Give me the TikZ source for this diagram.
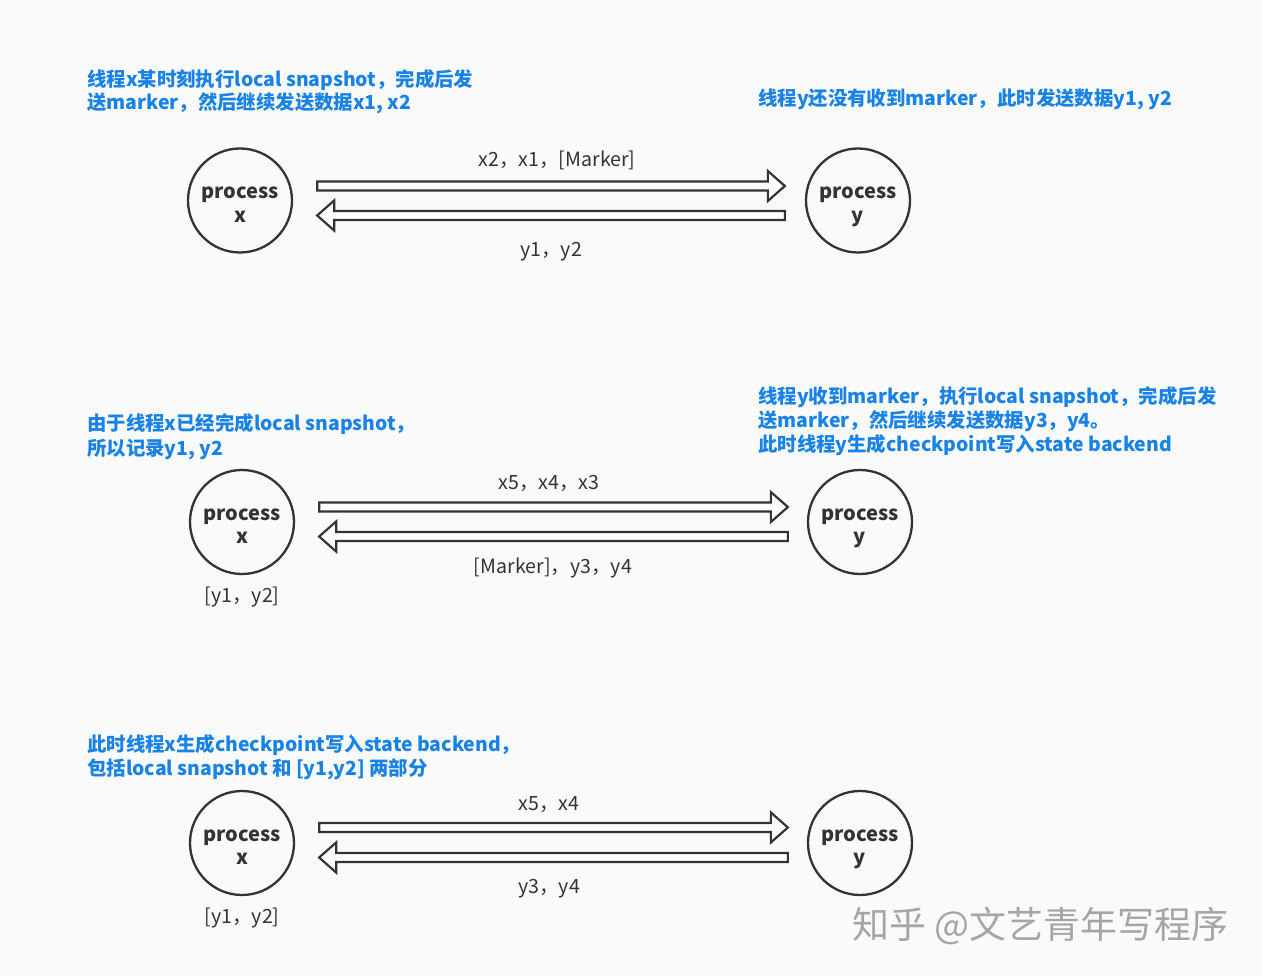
\documentclass[tikz,border=0pt]{standalone}
\usepackage{fontspec}
\setmainfont{Noto Sans CJK SC}
\usetikzlibrary{calc}
\definecolor{bgc}{RGB}{250,250,250}
\definecolor{ink}{RGB}{51,51,51}
\definecolor{note}{RGB}{24,130,230}
\definecolor{wm}{RGB}{165,165,165}
\newcommand\fatarrow[3]{% #1 tail, #2 tip, #3 direction (1 right, -1 left)
  \draw[fatarr] ($(#1)+(0,-4.5)$) -- ($(#2)+({-17*(#3)},-4.5)$) -- ($(#2)+({-17*(#3)},-15)$) -- (#2)
    -- ($(#2)+({-17*(#3)},15)$) -- ($(#2)+({-17*(#3)},4.5)$) -- ($(#1)+(0,4.5)$) -- cycle;}
\begin{document}
\begin{tikzpicture}[x=1pt,y=-1pt,
  proc/.style={circle,draw=ink,line width=2.3pt,minimum size=104pt,inner sep=0pt},
  ptext/.style={align=center,text=ink,inner sep=0pt,yshift=-6.2pt,text depth=4.4pt,
    font=\fontsize{20}{23.5}\selectfont\bfseries},
  fatarr/.style={draw=ink,line width=2.2pt,fill=white,line join=miter},
  lbl/.style={anchor=base,inner sep=0pt,text=ink,font=\fontsize{19.6}{22}\selectfont},
  notetxt/.style={anchor=base west,inner sep=0pt,text=note,font=\fontsize{19.4}{23}\selectfont\bfseries},
]
\useasboundingbox[fill=bgc] (0,0) rectangle (1262,976);

% ---------- row 1 ----------
\node[notetxt] (n1a) at (87,86.5) {线程x某时刻执行local snapshot，完成后发};
\node[notetxt] (n1b) at (87,110) {送marker，然后继续发送数据x1, x2};
\node[notetxt] (n1c) at (758,106) {线程y还没有收到marker，此时发送数据y1, y2};

\node[proc,label={[ptext]center:process\\x}] (px1) at (240,200.5) {};
\node[proc,label={[ptext]center:process\\y}] (py1) at (858,200.5) {};
\coordinate (r1s) at ($(px1.east)+(24,-14.5)$);
\coordinate (r1e) at ($(py1.west)+(-20,-14.5)$);
\coordinate (l1s) at ($(py1.west)+(-20,15)$);
\coordinate (l1e) at ($(px1.east)+(24,15)$);
\fatarrow{r1s}{r1e}{1}
\fatarrow{l1s}{l1e}{-1}
\node[lbl] (t1a) at (557,167) {x2，x1，[Marker]};
\node[lbl] (t1b) at (551,257) {y1，y2};

% ---------- row 2 ----------
\node[notetxt] (n2a) at (87,431) {由于线程x已经完成local snapshot，};
\node[notetxt] (n2b) at (87,455) {所以记录y1, y2};
\node[notetxt] (n2c) at (758,404) {线程y收到marker，执行local snapshot，完成后发};
\node[notetxt] (n2d) at (758,428) {送marker，然后继续发送数据y3，y4。};
\node[notetxt] (n2e) at (758,452) {此时线程y生成checkpoint写入state backend};

\node[proc,label={[ptext]center:process\\x}] (px2) at (242,522) {};
\node[proc,label={[ptext]center:process\\y}] (py2) at (860,522) {};
\coordinate (r2s) at ($(px2.east)+(24,-15)$);
\coordinate (r2e) at ($(py2.west)+(-19,-15)$);
\coordinate (l2s) at ($(py2.west)+(-19,14.5)$);
\coordinate (l2e) at ($(px2.east)+(24,14.5)$);
\fatarrow{r2s}{r2e}{1}
\fatarrow{l2s}{l2e}{-1}
\node[lbl] (t2a) at (549,489) {x5，x4，x3};
\node[lbl] (t2b) at (553,573) {[Marker]，y3，y4};
\node[lbl] (t2c) at (242,602) {[y1，y2]};

% ---------- row 3 ----------
\node[notetxt] (n3a) at (87,751.5) {此时线程x生成checkpoint写入state backend，};
\node[notetxt] (n3b) at (87,775.5) {包括local snapshot 和 [y1,y2] 两部分};

\node[proc,label={[ptext]center:process\\x}] (px3) at (242,843) {};
\node[proc,label={[ptext]center:process\\y}] (py3) at (860,843) {};
\coordinate (r3s) at ($(px3.east)+(24,-15.5)$);
\coordinate (r3e) at ($(py3.west)+(-19,-15.5)$);
\coordinate (l3s) at ($(py3.west)+(-19,14.5)$);
\coordinate (l3e) at ($(px3.east)+(24,14.5)$);
\fatarrow{r3s}{r3e}{1}
\fatarrow{l3s}{l3e}{-1}
\node[lbl] (t3a) at (549,810) {x5，x4};
\node[lbl] (t3b) at (549,893) {y3，y4};
\node[lbl] (t3c) at (242,923) {[y1，y2]};

% ---------- watermark ----------
\node[anchor=base west,inner sep=0pt,text=wm,font=\fontsize{37}{40}\selectfont] (wmk) at (852,938) {知乎 @文艺青年写程序};
\end{tikzpicture}
\end{document}
